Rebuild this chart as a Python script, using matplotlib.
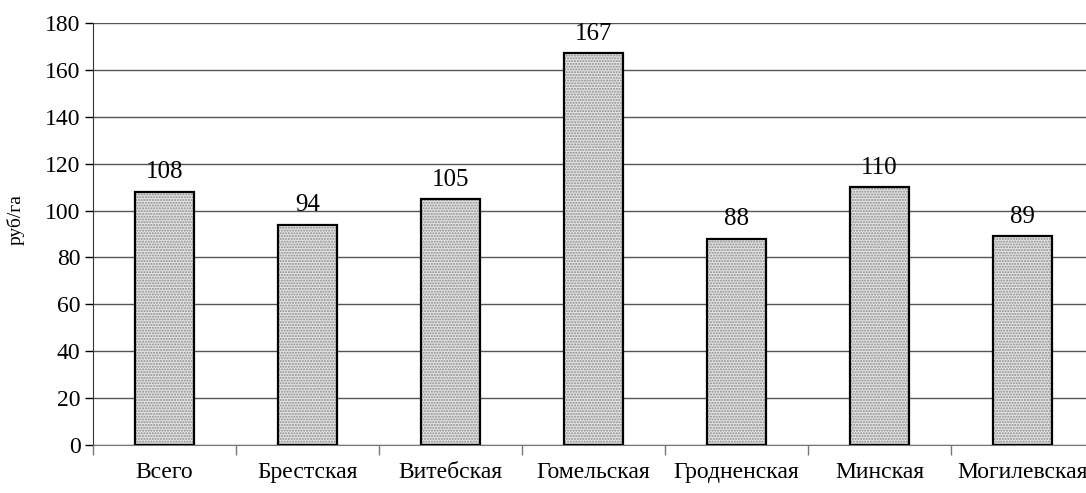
"""Bar chart: cost per hectare by region (руб/га)."""

import matplotlib
matplotlib.use("Agg")
import matplotlib.pyplot as plt
import numpy as np

REGIONS = ["Всего", "Брестская", "Витебская", "Гомельская",
           "Гродненская", "Минская", "Могилевская"]
VALUES = [108, 94, 105, 167, 88, 110, 89]
Y_TICKS = [0, 20, 40, 60, 80, 100, 120, 140, 160, 180]

plt.rcParams["font.family"] = ["Liberation Serif", "DejaVu Serif"]

fig = plt.figure(figsize=(10.86, 4.93), dpi=100)
ax = fig.add_axes([0.0856, 0.0974, 0.9217, 0.8559])

x = np.arange(len(REGIONS))
# stipple fill, then black outline on top
ax.bar(x, VALUES, width=0.41, color="#e4e4e4", edgecolor="#8a8a8a",
       hatch="......", linewidth=0, zorder=3)
ax.bar(x, VALUES, width=0.41, fill=False, edgecolor="black",
       linewidth=1.6, zorder=4)

for xi, v in zip(x, VALUES):
    ax.annotate(str(v), (xi, v), xytext=(0, 6), textcoords="offset points",
                ha="center", va="bottom", fontsize=18)

ax.set_xlim(-0.5, len(REGIONS) - 0.5)
ax.set_ylim(0, 180)
ax.set_yticks(Y_TICKS)
ax.tick_params(axis="y", labelsize=17, length=6, width=1, pad=3)
ax.set_xticks(x)
ax.set_xticklabels(REGIONS, fontsize=17)
ax.set_xticks(np.arange(len(REGIONS) + 1) - 0.5, minor=True)
ax.tick_params(axis="x", which="major", length=0, pad=12)
ax.tick_params(axis="x", which="minor", length=7, width=1, color="#777777")

ax.yaxis.grid(True, color="#555555", linewidth=1, zorder=0)
ax.set_axisbelow(True)
for side in ("top", "right"):
    ax.spines[side].set_visible(False)
ax.spines["left"].set_color("#333333")
ax.spines["bottom"].set_color("#777777")

ax.set_ylabel("руб/га", fontsize=14)
ax.yaxis.set_label_coords(-0.068, 0.535)

fig.savefig("out.png", dpi=100)
